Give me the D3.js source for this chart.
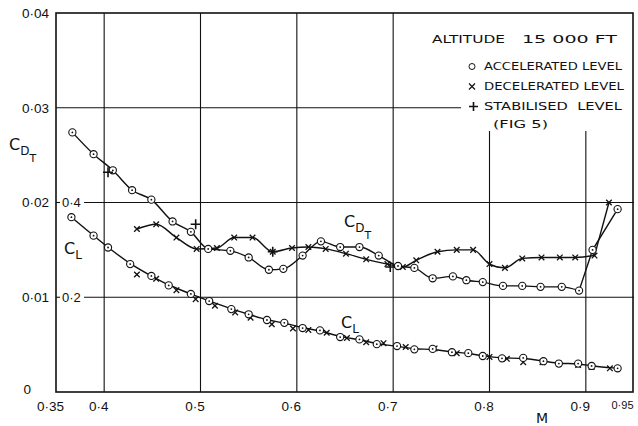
<!DOCTYPE html>
<html>
<head>
<meta charset="utf-8">
<script src="https://cdn.jsdelivr.net/npm/d3@7"></script>
<style>
  body { margin: 0; background: #fff; }
  svg { display: block; font-family: "DejaVu Sans", sans-serif; }
  text { fill: #111; }
</style>
</head>
<body>
<svg width="638" height="426"></svg>
<script>
// Mach number ticks and labels
const machTicks = [0.35, 0.4, 0.5, 0.6, 0.7, 0.8, 0.9, 0.95];
const machLabels = ['0·35', '0·4', '0·5', '0·6', '0·7', '0·8', '0·9', '0·95'];
const cdTicks = [0, 0.01, 0.02, 0.03, 0.04];
const cdLabels = ['0', '0·01', '0·02', '0·03', '0·04'];
const clTicks = [0.2, 0.4];
const clLabels = ['0·2', '0·4'];

// C_DT, accelerated level (circles)
const cdtAccM = [0.367, 0.389, 0.409, 0.429, 0.449, 0.471, 0.490, 0.508, 0.531, 0.550, 0.571, 0.586, 0.606, 0.625, 0.645,
  0.665, 0.685, 0.705, 0.722, 0.741, 0.762, 0.776, 0.793, 0.814, 0.834, 0.853, 0.875, 0.893, 0.907, 0.933];
const cdtAcc = [0.0274, 0.0251, 0.0234, 0.0213, 0.0203, 0.0180, 0.0169, 0.0151, 0.0149, 0.0142, 0.0129, 0.0130, 0.0144, 0.0159, 0.0153,
  0.0153, 0.0144, 0.0133, 0.0131, 0.0120, 0.0122, 0.0118, 0.0116, 0.0112, 0.0112, 0.0111, 0.0111, 0.0107, 0.0150, 0.0193];

// C_DT, decelerated level (crosses)
const cdtDecM = [0.434, 0.454, 0.475, 0.496, 0.517, 0.535, 0.554, 0.575, 0.595, 0.612, 0.630, 0.651, 0.672, 0.694,
  0.710, 0.724, 0.746, 0.766, 0.783, 0.800, 0.816, 0.834, 0.854, 0.873, 0.889, 0.909, 0.924];
const cdtDec = [0.0172, 0.0177, 0.0163, 0.0151, 0.0152, 0.0163, 0.0163, 0.0148, 0.0152, 0.0153, 0.0151, 0.0146, 0.0140, 0.0135,
  0.0132, 0.0139, 0.0148, 0.0150, 0.0150, 0.0135, 0.0131, 0.0141, 0.0142, 0.0142, 0.0142, 0.0144, 0.0200];

// C_DT, stabilised level (plus)
const stabM = [0.404, 0.495, 0.575, 0.697];
const stabCd = [0.0232, 0.0177, 0.0148, 0.0132];

// C_L, accelerated level
const clAccM = [0.366, 0.389, 0.404, 0.427, 0.449, 0.467, 0.490, 0.509, 0.532, 0.550, 0.569, 0.587, 0.606, 0.624, 0.645,
  0.665, 0.683, 0.704, 0.722, 0.741, 0.761, 0.778, 0.793, 0.813, 0.835, 0.856, 0.872, 0.892, 0.906, 0.933];
const clAcc = [0.369, 0.330, 0.305, 0.270, 0.245, 0.225, 0.207, 0.192, 0.175, 0.164, 0.152, 0.146, 0.135, 0.130, 0.116,
  0.111, 0.101, 0.097, 0.090, 0.091, 0.084, 0.082, 0.076, 0.071, 0.072, 0.065, 0.060, 0.060, 0.055, 0.050];

// C_L, decelerated level
const clDecM = [0.434, 0.454, 0.475, 0.495, 0.515, 0.536, 0.552, 0.574, 0.596, 0.612, 0.631, 0.652, 0.672, 0.690,
  0.713, 0.743, 0.766, 0.800, 0.818, 0.835, 0.855, 0.872, 0.892, 0.906, 0.925];
const clDec = [0.248, 0.239, 0.215, 0.196, 0.182, 0.168, 0.157, 0.143, 0.134, 0.131, 0.125, 0.114, 0.105, 0.103,
  0.095, 0.092, 0.082, 0.074, 0.070, 0.063, 0.063, 0.060, 0.057, 0.053, 0.050];

const svg = d3.select('svg');
const ink = '#111';

const x = d3.scaleLinear().domain([0.35, 0.95]).range([56, 634]);
const y = d3.scaleLinear().domain([0, 0.04]).range([392, 13]);
const yCl = d3.scaleLinear().domain([0, 0.8]).range([392, 13]);

const zip = (ms, vs) => ms.map((m, i) => ({ m, v: vs[i] }));

// grid
const grid = svg.append('g').attr('stroke', ink).attr('stroke-width', 1.1);
[0.4, 0.5, 0.6, 0.7].forEach(m => {
  grid.append('line').attr('x1', x(m)).attr('x2', x(m)).attr('y1', y(0.04)).attr('y2', y(0));
});
[0.8, 0.9].forEach(m => {
  grid.append('line').attr('x1', x(m)).attr('x2', x(m)).attr('y1', 131).attr('y2', y(0));
});
grid.append('line').attr('x1', x(0.35)).attr('x2', 461).attr('y1', y(0.03)).attr('y2', y(0.03));
[0.01, 0.02].forEach(v => {
  grid.append('line').attr('x1', 84).attr('x2', x(0.95)).attr('y1', y(v)).attr('y2', y(v));
  grid.append('line').attr('x1', x(0.35)).attr('x2', 60).attr('y1', y(v)).attr('y2', y(v));
});

// frame
svg.append('rect')
  .attr('x', x(0.35)).attr('y', y(0.04))
  .attr('width', x(0.95) - x(0.35) - 1).attr('height', y(0) - y(0.04))
  .attr('fill', 'none').attr('stroke', ink).attr('stroke-width', 1.6);

// axes (labels only)
const xAxis = svg.append('g')
  .attr('transform', `translate(0,${y(0)})`)
  .call(d3.axisBottom(x).tickValues(machTicks).tickSize(0).tickPadding(9)
    .tickFormat((d, i) => machLabels[i]));
xAxis.select('.domain').remove();
xAxis.selectAll('text')
  .attr('font-size', (d, i) => i === 7 ? 11 : 13.5)
  .attr('dx', (d, i) => i === 7 ? -12 : -6)
  .attr('fill', ink);

const yAxis = svg.append('g')
  .attr('transform', `translate(${x(0.35)},0)`)
  .call(d3.axisLeft(y).tickValues(cdTicks).tickSize(0).tickPadding(7)
    .tickFormat((d, i) => cdLabels[i]));
yAxis.select('.domain').remove();
yAxis.selectAll('text').attr('font-size', 13.5).attr('fill', ink)
  .attr('dx', (d, i) => i === 0 ? -18 : 0)
  .attr('dy', (d, i) => i === 0 ? '0.1em' : '0.32em');

const clAxis = svg.append('g')
  .attr('transform', `translate(${x(0.35)},0)`)
  .call(d3.axisRight(yCl).tickValues(clTicks).tickSize(0).tickPadding(6)
    .tickFormat((d, i) => clLabels[i]));
clAxis.select('.domain').remove();
clAxis.selectAll('text').attr('font-size', 13).attr('fill', ink);

// curve labels with subscripts
const coef = (cx, cy, sub, sub2) => {
  const t = svg.append('text').attr('x', cx).attr('y', cy).attr('font-size', 16);
  t.append('tspan').text('C');
  t.append('tspan').attr('dy', 5).attr('font-size', 12).text(sub);
  if (sub2) t.append('tspan').attr('dy', 7).attr('font-size', 11).text(sub2);
};
coef(9, 150, 'D', 'T');
coef(64, 254, 'L');
coef(344, 227, 'D', 'T');
coef(341, 328, 'L');

svg.append('text').attr('x', 536).attr('y', 423).attr('font-size', 14).text('M');

// lines
const lineSmooth = d3.line().x(d => x(d.m)).y(d => y(d.v)).curve(d3.curveMonotoneX);
const lineStraight = d3.line().x(d => x(d.m)).y(d => y(d.v));
const lineCl = d3.line().x(d => x(d.m)).y(d => yCl(d.v)).curve(d3.curveBasis);

const acc = zip(cdtAccM, cdtAcc);
const dec = zip(cdtDecM, cdtDec);
const curves = svg.append('g').attr('fill', 'none').attr('stroke', ink).attr('stroke-width', 1.4);
curves.append('path').attr('d', lineSmooth(acc.slice(0, 28)));
curves.append('path').attr('d', lineStraight(acc.slice(27)));
curves.append('path').attr('d', lineSmooth(dec.slice(0, 26)));
curves.append('path').attr('d', lineStraight(dec.slice(25)));
curves.append('path').attr('d', lineCl(zip(clAccM, clAcc)));

// markers
const drawCircles = (data, yy) => {
  const g = svg.append('g');
  g.selectAll('circle.o').data(data).join('circle')
    .attr('cx', d => x(d.m)).attr('cy', d => yy(d.v)).attr('r', 3.6)
    .attr('fill', '#fff').attr('stroke', ink).attr('stroke-width', 1.1);
  g.selectAll('circle.dot').data(data).join('circle').attr('class', 'dot')
    .attr('cx', d => x(d.m)).attr('cy', d => yy(d.v)).attr('r', 0.9).attr('fill', ink);
};
const drawCrosses = (data, yy) => {
  const s = 2.8;
  svg.append('g').selectAll('path').data(data).join('path')
    .attr('d', d => {
      const px = x(d.m), py = yy(d.v);
      return `M${px - s},${py - s}L${px + s},${py + s}M${px - s},${py + s}L${px + s},${py - s}`;
    })
    .attr('stroke', ink).attr('stroke-width', 1.3);
};
const drawPlus = (data, yy) => {
  const s = 5;
  svg.append('g').selectAll('path').data(data).join('path')
    .attr('d', d => {
      const px = x(d.m), py = yy(d.v);
      return `M${px - s},${py}L${px + s},${py}M${px},${py - s}L${px},${py + s}`;
    })
    .attr('stroke', ink).attr('stroke-width', 1.6);
};

drawCrosses(dec, y);
drawCrosses(zip(clDecM, clDec), yCl);
drawCircles(acc, y);
drawCircles(zip(clAccM, clAcc), yCl);
drawPlus(zip(stabM, stabCd), y);

// legend
const lg = svg.append('g').attr('font-size', 11);
lg.append('text').attr('x', 432).attr('y', 43).attr('textLength', 73).attr('lengthAdjust', 'spacingAndGlyphs').text('ALTITUDE');
lg.append('text').attr('x', 522).attr('y', 43).attr('textLength', 95).attr('lengthAdjust', 'spacingAndGlyphs').text('15 000 FT');
const rows = [
  { y: 70, label: 'ACCELERATED LEVEL', len: 138 },
  { y: 90, label: 'DECELERATED LEVEL', len: 140 },
  { y: 110, label: 'STABILISED  LEVEL', len: 138 }
];
rows.forEach(r => {
  lg.append('text').attr('x', 484).attr('y', r.y).attr('textLength', r.len)
    .attr('lengthAdjust', 'spacingAndGlyphs').attr('xml:space', 'preserve').text(r.label);
});
lg.append('circle').attr('cx', 472).attr('cy', 66.5).attr('r', 3).attr('fill', 'none').attr('stroke', ink);
lg.append('path').attr('d', 'M469,83.5L475,89.5M469,89.5L475,83.5').attr('stroke', ink).attr('stroke-width', 1.2);
lg.append('path').attr('d', 'M469,106.5L478,106.5M473.5,102L473.5,111').attr('stroke', ink).attr('stroke-width', 1.6);
lg.append('text').attr('x', 493).attr('y', 128).attr('textLength', 55).attr('lengthAdjust', 'spacingAndGlyphs').text('(FIG 5)');
</script>
</body>
</html>
